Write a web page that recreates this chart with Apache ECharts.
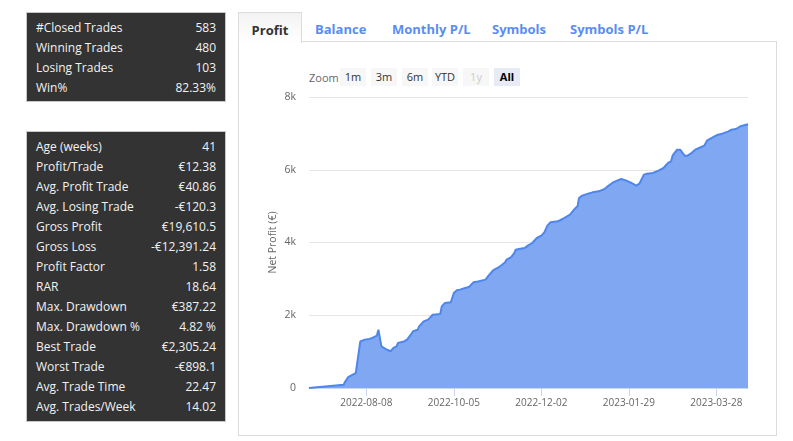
<!DOCTYPE html>
<html>
<head>
<meta charset="utf-8">
<script src="https://cdn.jsdelivr.net/npm/echarts@6/dist/echarts.min.js"></script>
<style>
  html, body { margin: 0; padding: 0; background: #fff; }
  body { width: 793px; height: 441px; position: relative; overflow: hidden; font-family: "Open Sans", "Noto Sans", sans-serif; }
  .panel { position: absolute; left: 26px; width: 198px; background: #333; border: 1px solid #c8c8c8; color: #f2f2f2; font-size: 12px; }
  .row { position: absolute; left: 9px; right: 9px; height: 20px; line-height: 20px; }
  .row .l { position: absolute; left: 0; }
  .row .v { position: absolute; right: 0; }
  .box { position: absolute; left: 238px; top: 41px; width: 537px; height: 393px; border: 1px solid #dcdcdc; background: #fff; }
  .tab { position: absolute; top: 12px; height: 30px; line-height: 35px; font-size: 13px; font-weight: 700; color: #5b8def; white-space: nowrap; }
  .tab.active { left: 238px; width: 62px; text-align: center; color: #333; border: 1px solid #dcdcdc; border-bottom: none; background: linear-gradient(#f3f3f3, #fff); z-index: 2; height: 30px; }
  .zoomlbl { position: absolute; left: 309px; top: 69px; font-size: 11px; color: #666; line-height: 17px; }
  .btn { position: absolute; top: 68px; width: 26px; height: 18px; line-height: 18px; text-align: center; font-size: 11px; color: #333; background: #f7f7f7; }
  .btn.dis { color: #ccc; }
  .btn.sel { background: #e6ebf5; font-weight: 700; color: #000; }
  #chart { position: absolute; left: 0; top: 0; width: 793px; height: 441px; }
</style>
</head>
<body>
<div class="panel" id="p1" style="top:12px;height:88px;"></div>
<div class="panel" id="p2" style="top:131px;height:289px;"></div>
<div class="box"></div>
<div id="tabs"></div>
<div class="zoomlbl">Zoom</div>
<div id="btns"></div>
<div id="chart"></div>
<script>
// ---- data ----
var summaryLabels = ['#Closed Trades', 'Winning Trades', 'Losing Trades', 'Win%'];
var summaryValues = ['583', '480', '103', '82.33%'];
var detailLabels = ['Age (weeks)', 'Profit/Trade', 'Avg. Profit Trade', 'Avg. Losing Trade', 'Gross Profit', 'Gross Loss', 'Profit Factor', 'RAR', 'Max. Drawdown', 'Max. Drawdown %', 'Best Trade', 'Worst Trade', 'Avg. Trade Time', 'Avg. Trades/Week'];
var detailValues = ['41', '€12.38', '€40.86', '-€120.3', '€19,610.5', '-€12,391.24', '1.58', '18.64', '€387.22', '4.82 %', '€2,305.24', '-€898.1', '22.47', '14.02'];
var tabNames = ['Profit', 'Balance', 'Monthly P/L', 'Symbols', 'Symbols P/L'];
var zoomButtons = ['1m', '3m', '6m', 'YTD', '1y', 'All'];
var xTickDates = ['2022-08-08', '2022-10-05', '2022-12-02', '2023-01-29', '2023-03-28'];
var yTicks = [0, 2000, 4000, 6000, 8000];
var dates = [
  '2022-07-01','2022-07-24','2022-07-25','2022-07-27','2022-07-30','2022-08-01','2022-08-04','2022-08-07',
  '2022-08-10','2022-08-12','2022-08-15','2022-08-16','2022-08-18','2022-08-21','2022-08-24','2022-08-26',
  '2022-08-28','2022-08-29','2022-08-30','2022-09-02','2022-09-04','2022-09-06','2022-09-07','2022-09-08',
  '2022-09-11','2022-09-12','2022-09-15','2022-09-18','2022-09-21','2022-09-26','2022-09-27','2022-09-29',
  '2022-10-03','2022-10-05','2022-10-07','2022-10-09','2022-10-12','2022-10-15','2022-10-18','2022-10-21',
  '2022-10-26','2022-10-28','2022-10-31','2022-11-03','2022-11-06','2022-11-08','2022-11-09','2022-11-12',
  '2022-11-14','2022-11-15','2022-11-18','2022-11-21','2022-11-23','2022-11-26','2022-11-29','2022-12-02',
  '2022-12-04','2022-12-06','2022-12-08','2022-12-13','2022-12-16','2022-12-21','2022-12-24','2022-12-26',
  '2022-12-27','2022-12-29','2023-01-02','2023-01-05','2023-01-09','2023-01-13','2023-01-15','2023-01-18',
  '2023-01-20','2023-01-24','2023-01-27','2023-01-30','2023-02-03','2023-02-05','2023-02-08','2023-02-10',
  '2023-02-14','2023-02-18','2023-02-21','2023-02-24','2023-02-26','2023-02-27','2023-03-02','2023-03-04',
  '2023-03-07','2023-03-09','2023-03-11','2023-03-14','2023-03-18','2023-03-20','2023-03-22','2023-03-25',
  '2023-03-29','2023-04-01','2023-04-05','2023-04-07','2023-04-10','2023-04-13','2023-04-18'
];
var profit = [
  0, 90, 180, 300, 370, 410, 1280, 1330,
  1350, 1375, 1440, 1600, 1145, 1070, 1010, 1100,
  1145, 1240, 1255, 1280, 1330, 1440, 1495, 1560,
  1600, 1695, 1830, 1880, 2015, 2035, 2245, 2335,
  2355, 2610, 2685, 2705, 2740, 2775, 2905, 2930,
  2980, 3090, 3235, 3300, 3390, 3455, 3530, 3600,
  3710, 3800, 3830, 3849, 3913, 3986, 4124, 4188,
  4280, 4463, 4555, 4582, 4646, 4765, 4921, 4994,
  5223, 5288, 5343, 5379, 5407, 5471, 5544, 5636,
  5682, 5746, 5709, 5654, 5562, 5617, 5865, 5893,
  5911, 5984, 6048, 6186, 6232, 6387, 6552, 6552,
  6387, 6387, 6442, 6552, 6626, 6662, 6808, 6873,
  6965, 6992, 7056, 7102, 7120, 7194, 7250
];

// ---- static HTML parts ----
function fillPanel(id, labels, values, top) {
  var el = document.getElementById(id);
  labels.forEach(function (l, i) {
    var r = document.createElement('div');
    r.className = 'row';
    r.style.top = (top + i * 20) + 'px';
    r.innerHTML = '<span class="l"></span><span class="v"></span>';
    r.children[0].textContent = l;
    r.children[1].textContent = values[i];
    el.appendChild(r);
  });
}
fillPanel('p1', summaryLabels, summaryValues, 5);
fillPanel('p2', detailLabels, detailValues, 5);

var tabX = [238, 315, 392, 492, 570];
var tabsEl = document.getElementById('tabs');
tabNames.forEach(function (t, i) {
  var d = document.createElement('div');
  d.className = 'tab' + (i === 0 ? ' active' : '');
  if (i > 0) d.style.left = tabX[i] + 'px';
  d.textContent = t;
  tabsEl.appendChild(d);
});

var btnX = [340, 371, 402, 432, 463, 494];
var btnsEl = document.getElementById('btns');
zoomButtons.forEach(function (b, i) {
  var d = document.createElement('div');
  d.className = 'btn' + (b === '1y' ? ' dis' : '') + (b === 'All' ? ' sel' : '');
  d.style.left = btnX[i] + 'px';
  d.textContent = b;
  btnsEl.appendChild(d);
});

// ---- chart ----
function ts(s) { var p = s.split('-'); return new Date(+p[0], +p[1] - 1, +p[2]).getTime(); }
function pad(n) { return (n < 10 ? '0' : '') + n; }
var chart = echarts.init(document.getElementById('chart'), null, { renderer: 'canvas' });
chart.setOption({
  animation: false,
  backgroundColor: 'transparent',
  grid: { left: 309, right: 45, top: 97, bottom: 53, containLabel: false },
  xAxis: {
    type: 'value',
    min: ts('2022-07-01'),
    max: ts('2023-04-18'),
    axisLine: { show: true, onZero: false, lineStyle: { color: '#ccd6eb', width: 1 } },
    axisTick: { show: true, length: 8, lineStyle: { color: '#ccd6eb' }, customValues: xTickDates.map(ts) },
    axisLabel: {
      customValues: xTickDates.map(ts),
      color: '#666', fontSize: 10, fontFamily: 'Open Sans', margin: 10,
      formatter: function (v) { var d = new Date(v); return d.getFullYear() + '-' + pad(d.getMonth() + 1) + '-' + pad(d.getDate()); }
    },
    splitLine: { show: false }
  },
  yAxis: {
    type: 'value',
    min: yTicks[0], max: yTicks[yTicks.length - 1], interval: yTicks[1] - yTicks[0],
    name: 'Net Profit (€)', nameLocation: 'middle', nameGap: 30, nameRotate: 90,
    nameMoveOverlap: false,
    nameTextStyle: { color: '#666', fontSize: 10.5, fontFamily: 'Open Sans' },
    axisLine: { show: false }, axisTick: { show: false },
    axisLabel: { color: '#666', fontSize: 10.5, fontFamily: 'Open Sans', margin: 13,
      formatter: function (v) { return v === 0 ? '0' : (v / 1000) + 'k'; } },
    splitLine: { lineStyle: { color: '#e6e6e6', width: 1 } }
  },
  series: [{
    type: 'line',
    data: dates.map(function (d, i) { return [ts(d), profit[i]]; }),
    symbol: 'none',
    lineStyle: { color: '#4f86ec', width: 2 },
    itemStyle: { color: '#4f86ec' },
    areaStyle: { color: '#7fa7f2', opacity: 1 }
  }]
});
</script>
</body>
</html>
